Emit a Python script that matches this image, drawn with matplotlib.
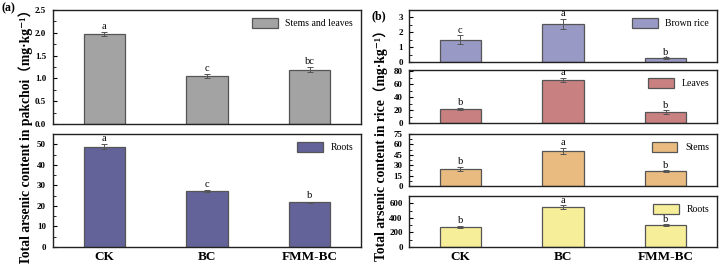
import matplotlib
matplotlib.use("Agg")
import matplotlib.pyplot as plt
from matplotlib.ticker import AutoMinorLocator, MultipleLocator

plt.rcParams['font.family'] = ['Liberation Serif', 'DejaVu Serif']

categories = ["CK", "BC", "FMM-BC"]

# Panel (a) pakchoi
pak_stems_leaves = [1.97, 1.05, 1.19]
pak_stems_leaves_err = [0.05, 0.04, 0.05]
pak_stems_leaves_sig = ["a", "c", "bc"]
pak_roots = [48.9, 27.1, 21.7]
pak_roots_err = [1.0, 0.5, 0.4]
pak_roots_sig = ["a", "c", "b"]

# Panel (b) rice
rice_brown = [1.5, 2.55, 0.25]
rice_brown_err = [0.3, 0.35, 0.06]
rice_brown_sig = ["c", "a", "b"]
rice_leaves = [22.0, 67.0, 17.0]
rice_leaves_err = [1.5, 3.0, 2.5]
rice_leaves_sig = ["b", "a", "b"]
rice_stems = [24.5, 51.0, 21.5]
rice_stems_err = [3.0, 4.5, 1.5]
rice_stems_sig = ["b", "a", "b"]
rice_roots = [272.0, 545.0, 300.0]
rice_roots_err = [18.0, 25.0, 15.0]
rice_roots_sig = ["b", "a", "b"]

W, H = 722, 264
fig = plt.figure(figsize=(W / 100, H / 100), dpi=100)


def add_ax(x0, x1, y0, y1):
    return fig.add_axes([x0 / W, (H - y1) / H, (x1 - x0) / W, (y1 - y0) / H])


def draw(ax, vals, errs, sig, color, label, ylim, major, show_x, fmt=None, ypad=5):
    pos = [1, 2, 3]
    ax.bar(pos, vals, width=0.4, color=color, edgecolor="#555555", linewidth=0.9,
           label=label, zorder=2)
    ax.errorbar(pos, vals, yerr=errs, fmt="none", ecolor="#555555", elinewidth=0.7,
                capsize=2.5, capthick=0.7, zorder=3)
    span = ylim[1] - ylim[0]
    for p, v, e, s in zip(pos, vals, errs, sig):
        ax.text(p, v + e + span * 0.01, s, ha="center", va="bottom", fontsize=7.5)
    ax.set_xlim(0.5, 3.5)
    ax.set_ylim(*ylim)
    ax.yaxis.set_major_locator(MultipleLocator(major))
    ax.yaxis.set_minor_locator(AutoMinorLocator(2))
    if fmt:
        ax.yaxis.set_major_formatter(matplotlib.ticker.FormatStrFormatter(fmt))
    ax.set_xticks(pos)
    ax.tick_params(axis="x", direction="in", length=4, width=1, labelsize=9.5, pad=3)
    ax.tick_params(axis="y", which="major", direction="in", length=3, width=0.8,
                   labelsize=6.5, pad=ypad)
    ax.tick_params(axis="y", which="minor", direction="in", length=1.8, width=0.6)
    for lab in ax.get_yticklabels():
        lab.set_fontweight("bold")
    if show_x:
        ax.set_xticklabels(categories, fontweight="bold")
    else:
        ax.set_xticklabels([])
    for sp in ax.spines.values():
        sp.set_linewidth(1.0)
        sp.set_color("#222222")
    ax.legend(loc="upper right", fontsize=7, frameon=False, handlelength=2.6,
              handleheight=1.2, borderaxespad=0.4)


# Panel (a)
ax1 = add_ax(53, 361, 10, 124)
draw(ax1, pak_stems_leaves, pak_stems_leaves_err, pak_stems_leaves_sig, "#a3a3a3",
     "Stems and leaves", (0, 2.5), 0.5, False, fmt="%.1f")
ax2 = add_ax(53, 361, 134, 247)
draw(ax2, pak_roots, pak_roots_err, pak_roots_sig, "#63639a", "Roots", (0, 55), 10, True)

# Panel (b)
bx1 = add_ax(409, 717, 10, 62)
draw(bx1, rice_brown, rice_brown_err, rice_brown_sig, "#9999c6", "Brown rice", (0, 3.5), 1, False, ypad=4.5)
bx2 = add_ax(409, 717, 70, 123)
draw(bx2, rice_leaves, rice_leaves_err, rice_leaves_sig, "#c98080", "Leaves", (0, 82), 20, False, ypad=4.5)
bx3 = add_ax(409, 717, 134, 186)
draw(bx3, rice_stems, rice_stems_err, rice_stems_sig, "#e9bb80", "Stems", (0, 75), 15, False, ypad=4.5)
bx4 = add_ax(409, 717, 196, 247)
draw(bx4, rice_roots, rice_roots_err, rice_roots_sig, "#f7ee9a", "Roots", (0, 700), 200, True, ypad=4.5)

fam = ['Liberation Serif', 'Noto Sans CJK SC', 'DejaVu Serif']
fig.text(26 / W, 1 - 134 / H, "Total arsenic content in pakchoi（mg·kg⁻¹）", rotation=90,
         ha="center", va="center", fontsize=9.8, fontweight="bold", family=fam)
fig.text(381 / W, 1 - 142 / H, "Total arsenic content in rice（mg·kg⁻¹）", rotation=90,
         ha="center", va="center", fontsize=9.8, fontweight="bold", family=fam)
fig.text(2 / W, 1 - 8 / H, "(a)", ha="left", va="center", fontsize=8.5, fontweight="bold")
fig.text(372 / W, 1 - 16 / H, "(b)", ha="left", va="center", fontsize=8.5, fontweight="bold")

fig.savefig("out.png", dpi=100)
